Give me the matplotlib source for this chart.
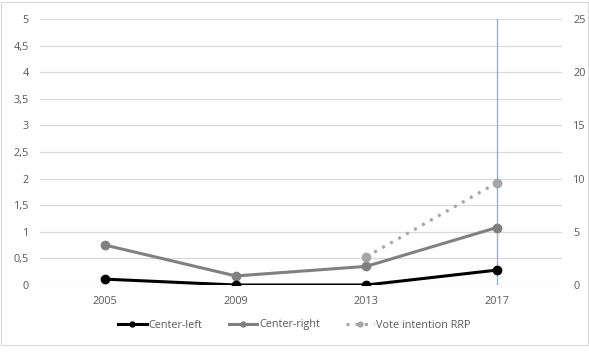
import matplotlib
matplotlib.use("Agg")
import matplotlib.pyplot as plt
from matplotlib.lines import Line2D
from matplotlib.ticker import FuncFormatter, MultipleLocator

years = ["2005", "2009", "2013", "2017"]
center_left = [0.11, 0.0, 0.0, 0.28]
center_right = [0.75, 0.17, 0.35, 1.08]
vote_years = ["2013", "2017"]
vote_rrp = [2.65, 9.6]  # secondary axis (0-25)

plt.rcParams['font.family'] = ['Open Sans', 'DejaVu Sans']

fig = plt.figure(figsize=(5.89, 3.52), dpi=100)
fig.patch.set_facecolor('white')
# outer border
fig.add_artist(plt.Rectangle((0.002, 0.02), 0.996, 0.975, transform=fig.transFigure,
                             fill=False, edgecolor='#D9D9D9', linewidth=0.8))

ax = fig.add_axes([40/589, 67/352, 522/589, 266/352])
x = list(range(len(years)))
ax.set_xlim(-0.5, len(years) - 0.5)
ax.set_ylim(0, 5)
ax.yaxis.set_major_locator(MultipleLocator(0.5))
ax.yaxis.set_major_formatter(FuncFormatter(lambda v, p: (f"{v:g}").replace('.', ',')))
ax.grid(axis='y', color='#D9D9D9', linewidth=0.9)
ax.set_axisbelow(True)
for s in ax.spines.values():
    s.set_visible(False)
ax.tick_params(length=0, labelsize=7.8, labelcolor='#595959', pad=8)
ax.set_xticks(x)
ax.set_xticklabels(years)

ax2 = ax.twinx()
ax2.set_ylim(0, 25)
ax2.yaxis.set_major_locator(MultipleLocator(5))
for s in ax2.spines.values():
    s.set_visible(False)
ax2.tick_params(length=0, labelsize=7.8, labelcolor='#595959', pad=8)

# vertical line at 2017 (secondary axis crossing)
ax.axvline(x[years.index("2017")], color='#8DB3E2', linewidth=1.0, zorder=1)

ax.plot(x, center_left, color='black', linewidth=2.2, marker='o', markersize=6, zorder=4)
ax.plot(x, center_right, color='#808080', linewidth=2.2, marker='o', markersize=6, zorder=3)
vx = [years.index(y) for y in vote_years]
ax2.plot(vx, vote_rrp, color='#A6A6A6', linewidth=2.2, linestyle=(0, (1, 2)),
         marker='o', markersize=6, zorder=3)

handles = [
    Line2D([], [], color='black', linewidth=2.2, marker='o', markersize=3.5),
    Line2D([], [], color='#808080', linewidth=2.2, marker='o', markersize=3.5),
    Line2D([], [], color='#A6A6A6', linewidth=2.2, linestyle=(0, (1, 2)), marker='o', markersize=3.5),
]
labels = ["Center-left", "Center-right", "Vote intention RRP"]
fig.legend(handles, labels, loc='center', bbox_to_anchor=(0.5, 27/352), ncol=3,
           frameon=False, fontsize=7.8, labelcolor='#595959', handlelength=2.6,
           handletextpad=0.2, columnspacing=2.4)

fig.savefig("out.png", dpi=100)
